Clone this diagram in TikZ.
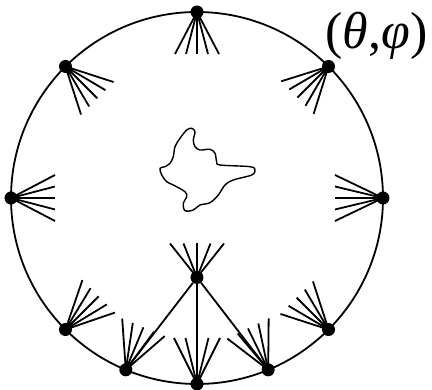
\documentclass[tikz,border=0pt]{standalone}
\usepackage{fontspec}
\setmainfont{Liberation Serif}
\usetikzlibrary{calc}
\tikzstyle{site}=[circle,fill=black,inner sep=0pt,minimum size=13pt]
\tikzstyle{ray}=[line width=1.8pt]
\tikzstyle{rim}=[line width=1.8pt]
\tikzstyle{blob}=[line width=1.4pt]
\tikzstyle{tag}=[inner sep=0pt,font=\fontsize{52}{54}\selectfont]
% fan of five spokes: node, inward angle, depth, spread
\newcommand{\spokes}[4]{%
  \foreach \k in {-2,...,2}
    \draw[ray] (#1.center) -- ($(#1.center)+(#2:#3)+(#2+90:\k*#4)$);}

\begin{document}
\begin{tikzpicture}[x=1pt,y=1pt]
\useasboundingbox (-197,-192) rectangle (235,198);
\coordinate (O) at (0,0);
\draw[rim] (O) circle (186);
% sites on the sphere
\node[site] (N) at (90:186) {};
\node[site] (NE) at (45:186) {};
\node[site] (E) at (0:186) {};
\node[site] (SE) at (-45:186) {};
\node[site] (SSE) at (-67.5:186) {};
\node[site] (S) at (-90:186) {};
\node[site] (SSW) at (-112.5:186) {};
\node[site] (SW) at (-135:186) {};
\node[site] (W) at (180:186) {};
\node[site] (NW) at (135:186) {};
\node[site] (M) at (0,-79.5) {};
\node[tag] (lbl) at (179.5,162) {(\textit{θ},\textit{φ})};
% links from the inner site
\draw[ray] (M) -- (SSW);
\draw[ray] (M) -- (S);
\draw[ray] (M) -- (SSE);
% fans
\spokes{N}{270}{42}{11}
\spokes{NE}{225}{44}{11.5}
\spokes{E}{180}{48}{11.5}
\spokes{SE}{135}{45}{11.5}
\spokes{SSE}{116}{46}{11.5}
\spokes{S}{90}{46}{11.5}
\spokes{SSW}{67.5}{46}{11.5}
\spokes{SW}{45}{47}{11.5}
\spokes{W}{0}{44}{11.5}
\spokes{NW}{315}{45}{11.5}
\spokes{M}{90}{34}{13.5}
% the body
\draw[blob] plot[smooth cycle, tension=0.55] coordinates {
  (-5.3,69.7) (-2,66.3) (-3.7,58) (-2,51.3) (3,48) (13,48.7) (18,44.7)
  (19.7,36.3) (23,33) (53,31.3) (58,28) (54.7,23) (36.3,18) (28,13)
  (21.3,3) (13,-4.7) (3,-7) (-3.7,-12) (-12,-12.7) (-13.7,-5.3)
  (-10.3,1.3) (-12,6.3) (-23.7,13) (-30.3,16.3) (-35.3,23) (-37,29.7)
  (-32,31.3) (-27,34.7) (-23.7,41.3) (-22,51.3) (-17,59.7) (-10.3,68)};
\end{tikzpicture}
\end{document}
